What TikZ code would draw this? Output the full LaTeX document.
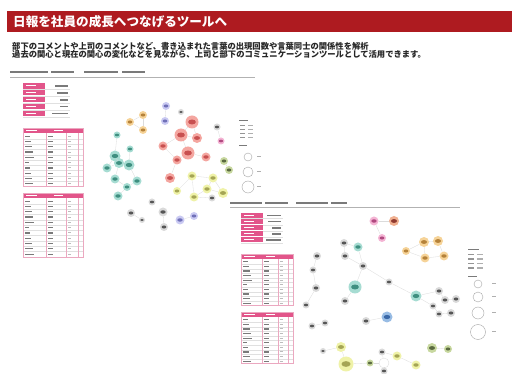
\documentclass[tikz,border=0pt]{standalone}
\usepackage{fontspec}
\newfontfamily\jp{Noto Sans CJK JP}
\definecolor{titlered}{HTML}{AE1B20}
\definecolor{pinkc}{HTML}{E2558A}
\definecolor{pinkl}{HTML}{EBA8C0}
\definecolor{txtc}{HTML}{7A7A7A}
\definecolor{redH}{HTML}{F4A6A0}\definecolor{redC}{HTML}{C85050}
\definecolor{tealH}{HTML}{A6DCD2}\definecolor{tealC}{HTML}{3F8F80}
\definecolor{orangeH}{HTML}{F6D398}\definecolor{orangeC}{HTML}{B5823A}
\definecolor{purpleH}{HTML}{CACAF2}\definecolor{purpleC}{HTML}{7070B8}
\definecolor{yellowH}{HTML}{EFF2A8}\definecolor{yellowC}{HTML}{A5A555}
\definecolor{grayH}{HTML}{DADADA}\definecolor{grayC}{HTML}{555555}
\definecolor{pinkH}{HTML}{F4B4D4}\definecolor{pinkC}{HTML}{B04A80}
\definecolor{blueH}{HTML}{98BCE4}\definecolor{blueC}{HTML}{3A68A8}
\definecolor{oliveH}{HTML}{C8D8A0}\definecolor{oliveC}{HTML}{5A6A40}
\definecolor{brickH}{HTML}{F0B090}\definecolor{brickC}{HTML}{903A30}
\newcommand\mytable[8]{%
  \fill[pinkc] (#1,#3) rectangle (#2,{#3+5.5});
  \fill[white] ({#1+3},{#3+2.3}) rectangle ({#1+14},{#3+3.3});
  \fill[white] ({#7-12},{#3+2.3}) rectangle ({#7-3},{#3+3.3});
  \foreach \i in {1,...,#4}{%
    \draw[tl] (#1,{#3+5.5+\i*#5}) -- (#2,{#3+5.5+\i*#5});
    \pgfmathsetmacro\wa{4+mod(\i*7,6)}
    \pgfmathsetmacro\wb{5+mod(\i*5,5)}
    \fill[txtc] ({#1+1.5},{#3+5.5+(\i-0.5)*#5-0.6}) rectangle ++(\wa,1.2);
    \fill[txtc] ({#6+1.5},{#3+5.5+(\i-0.5)*#5-0.6}) rectangle ++(\wb,1.2);
    \fill[txtc!50] ({#7+1.5},{#3+5.5+(\i-0.5)*#5-0.5}) rectangle ++(3,1);
  }
  \draw[pinkl,line width=0.4pt] (#6,{#3+5.5}) -- (#6,{#3+5.5+#4*#5});
  \draw[pinkl,line width=0.4pt] (#7,{#3+5.5}) -- (#7,{#3+5.5+#4*#5});
  \draw[pinkl,line width=0.4pt] (#8,{#3+5.5}) -- (#8,{#3+5.5+#4*#5});
  \draw[pinkl,line width=0.4pt] (#1,#3) rectangle (#2,{#3+5.5+#4*#5});
}
\begin{document}
\begin{tikzpicture}[x=1pt,y=-1pt,
  gn/.style 2 args={circle,inner sep=0pt,minimum size=#2pt,fill=#1H,draw=none,
    path picture={\fill[#1C] (path picture bounding box.center) ellipse ({0.3*#2 pt} and {0.19*#2 pt});}},
  ed/.style={draw=black!14,line width=0.3pt},
  tl/.style={draw=black!12,line width=0.3pt},
  hl/.style={draw=black!30,line width=0.7pt},
  lg/.style={draw=black!35,line width=0.4pt,fill=white}]
\useasboundingbox (0,0) rectangle (512,374);
\fill[white] (0,0) rectangle (512,374);
% title
\fill[titlered] (7,11) rectangle (512,32);
\node[anchor=west,inner sep=0pt,text=white,font=\jp\bfseries\fontsize{12.6}{14}\selectfont] (title) at (13,21.5) {日報を社員の成長へつなげるツールへ};
\node[anchor=west,inner sep=0pt,text=black!85,font=\jp\bfseries\fontsize{8.3}{9}\selectfont] (d1) at (12,46) {部下のコメントや上司のコメントなど、書き込まれた言葉の出現回数や言葉同士の関係性を解析};
\node[anchor=west,inner sep=0pt,text=black!85,font=\jp\bfseries\fontsize{8.3}{9}\selectfont] (d2) at (12,54.5) {過去の関心と現在の関心の変化などを見ながら、上司と部下のコミュニケーションツールとして活用できます。};
% panel 1 header
\foreach \a/\b in {10/48,51/74,84/118,122/145}{\fill[txtc] (\a,71.2) rectangle (\b,72.8);}
\draw[hl] (10,77) -- (255,77);
% panel 1 summary
\foreach \i/\w in {0/13,1/11,2/8,3/8,4/16}{
  \fill[pinkc] (23,{83+\i*6.9}) rectangle (45,{88.6+\i*6.9});
  \fill[white] (26,{85.3+\i*6.9}) rectangle (36,{86.3+\i*6.9});
  \fill[txtc] ({68-\w},{85.2+\i*6.9}) rectangle (68,{86.8+\i*6.9});
  \draw[tl] (23,{89.3+\i*6.9}) -- (70,{89.3+\i*6.9});
}
\mytable{23}{83}{128}{10}{5.3}{46}{66}{78}
\mytable{23}{83}{193}{11}{5.3}{46}{66}{78}
% panel 2 header
\foreach \a/\b in {230/262,265/288,296/328,331/347}{\fill[txtc] (\a,202.2) rectangle (\b,203.8);}
\draw[hl] (230,207.5) -- (460,207.5);
\foreach \i/\w in {0/14,1/13,2/9,3/9,4/15}{
  \fill[pinkc] (241,{213+\i*6.1}) rectangle (263,{218+\i*6.1});
  \fill[white] (244,{215.1+\i*6.1}) rectangle (254,{216.1+\i*6.1});
  \fill[txtc] ({281-\w},{214.8+\i*6.1}) rectangle (281,{216.4+\i*6.1});
  \draw[tl] (241,{218.6+\i*6.1}) -- (283,{218.6+\i*6.1});
}
\mytable{241}{293}{254}{10}{4.6}{262}{278}{288}
\mytable{241}{293}{312}{10}{4.6}{262}{278}{288}
% legend 1
\fill[txtc] (239,120) rectangle (248,121.4);
\foreach \i in {0,...,3}{\fill[txtc!80] (240,{125+\i*4}) rectangle (245,{126.1+\i*4});
  \fill[txtc!60] (248,{125+\i*4}) rectangle (253,{126.1+\i*4});}
\fill[txtc] (239,145) rectangle (247,146.3);
\node[lg,circle,minimum size=8pt,inner sep=0pt] (la) at (248,157) {};
\node[lg,circle,minimum size=10pt,inner sep=0pt] (lb) at (248,172) {};
\node[lg,circle,minimum size=12pt,inner sep=0pt] (lc) at (248,187) {};
\foreach \yy in {157,172,187}{\fill[txtc!60] (257,{\yy-0.5}) rectangle (261,{\yy+0.5});}
% legend 2
\fill[txtc] (468,249) rectangle (479,250.4);
\foreach \i in {0,...,3}{\fill[txtc!80] (468,{254+\i*4.5}) rectangle (474,{255.2+\i*4.5});
  \fill[txtc!60] (477,{254+\i*4.5}) rectangle (483,{255.2+\i*4.5});}
\fill[txtc] (468,276) rectangle (477,277.3);
\node[lg,circle,minimum size=8pt,inner sep=0pt] (ld) at (478,284) {};
\node[lg,circle,minimum size=10pt,inner sep=0pt] (le) at (478,297) {};
\node[lg,circle,minimum size=12pt,inner sep=0pt] (lf) at (478,313) {};
\node[lg,circle,minimum size=15pt,inner sep=0pt] (lh) at (478,332) {};
\foreach \yy in {284,297,313,332}{\fill[txtc!60] (492,{\yy-0.5}) rectangle (496,{\yy+0.5});}
% graph 1 nodes
\node[gn={purple}{8}] (p1) at (166,106) {};
\node[gn={purple}{8}] (p2) at (165,121) {};
\node[gn={gray}{6}] (k1) at (181,112) {};
\node[gn={orange}{8}] (o1) at (143,115) {};
\node[gn={orange}{8}] (o2) at (130,122) {};
\node[gn={orange}{8}] (o3) at (143,130) {};
\node[gn={red}{13}] (r1) at (192,122) {};
\node[gn={red}{13}] (r2) at (181,135) {};
\node[gn={red}{10}] (r3) at (197,138) {};
\node[gn={red}{9}] (r4) at (163,146) {};
\node[gn={red}{13}] (r5) at (188,153) {};
\node[gn={red}{9}] (r6) at (177,160) {};
\node[gn={red}{9}] (r7) at (206,157) {};
\node[gn={red}{10}] (r8) at (170,178) {};
\node[gn={gray}{7}] (k2) at (217,127) {};
\node[gn={pink}{7}] (m1) at (221,141) {};
\node[gn={olive}{8}] (g1) at (224,161) {};
\node[gn={olive}{8}] (g2) at (229,170) {};
\node[gn={teal}{7}] (t1) at (117,135) {};
\node[gn={teal}{7}] (t2) at (130,149) {};
\node[gn={teal}{11}] (t3) at (115,156) {};
\node[gn={teal}{10}] (t4) at (119,163) {};
\node[gn={teal}{11}] (t5) at (129,165) {};
\node[gn={teal}{9}] (t6) at (107,168) {};
\node[gn={teal}{9}] (t7) at (115,179) {};
\node[gn={teal}{9}] (t8) at (137,181) {};
\node[gn={teal}{8}] (t9) at (127,187) {};
\node[gn={teal}{9}] (t10) at (118,196) {};
\node[gn={yellow}{9}] (y1) at (192,176) {};
\node[gn={yellow}{9}] (y2) at (213,178) {};
\node[gn={yellow}{8}] (y3) at (177,191) {};
\node[gn={yellow}{9}] (y4) at (207,189) {};
\node[gn={yellow}{10}] (y5) at (223,193) {};
\node[gn={yellow}{9}] (y6) at (194,197) {};
\node[gn={gray}{7}] (y7) at (212,198) {};
\node[gn={gray}{7}] (k3) at (152,202) {};
\node[gn={gray}{8}] (k4) at (131,213) {};
\node[gn={gray}{6}] (k5) at (142,220) {};
\node[gn={gray}{9}] (k6) at (163,212) {};
\node[gn={gray}{8}] (k7) at (164,227) {};
\node[gn={purple}{9}] (b1) at (180,220) {};
\node[gn={purple}{8}] (b2) at (194,216) {};
% graph 1 edges
\foreach \a/\b in {o1/o2,o2/o3,o1/o3,p1/p2,r1/r2,r2/r3,r2/r4,r2/r5,r5/r6,r5/r7,r1/r3,r6/r8,r4/r6,
  t1/t3,t2/t5,t3/t4,t4/t5,t4/t6,t5/t8,t4/t7,t7/t9,t8/t9,t9/t10,t3/t6,
  y1/y2,y1/y3,y2/y4,y4/y5,y4/y6,y6/y7,y2/y5,y1/y6,k6/k7,b1/b2,k4/k5,k2/m1,g1/g2}
  {\draw[ed] (\a) -- (\b);}
% graph 2 nodes
\node[gn={pink}{9}] (q1) at (374,221) {};
\node[gn={brick}{10}] (q2) at (394,221) {};
\node[gn={pink}{8}] (q3) at (382,238) {};
\node[gn={orange}{10}] (o4) at (424,242) {};
\node[gn={orange}{10}] (o5) at (438,241) {};
\node[gn={orange}{8}] (o6) at (406,251) {};
\node[gn={orange}{9}] (o7) at (425,258) {};
\node[gn={orange}{9}] (o8) at (444,256) {};
\node[gn={gray}{8}] (k8) at (344,243) {};
\node[gn={teal}{9}] (t11) at (358,247) {};
\node[gn={gray}{8}] (k9) at (345,256) {};
\node[gn={gray}{8}] (k10) at (363,266) {};
\node[gn={gray}{8}] (k11) at (317,256) {};
\node[gn={gray}{7}] (k12) at (313,270) {};
\node[gn={gray}{8}] (k13) at (316,288) {};
\node[gn={gray}{7}] (k14) at (306,305) {};
\node[gn={teal}{13}] (t12) at (355,287) {};
\node[gn={gray}{7}] (k15) at (389,282) {};
\node[gn={gray}{8}] (k16) at (345,301) {};
\node[gn={teal}{11}] (t13) at (416,296) {};
\node[gn={gray}{8}] (k17) at (439,291) {};
\node[gn={gray}{8}] (k18) at (445,300) {};
\node[gn={gray}{8}] (k19) at (456,299) {};
\node[gn={gray}{7}] (k20) at (433,306) {};
\node[gn={gray}{7}] (k21) at (439,314) {};
\node[gn={gray}{8}] (k22) at (451,313) {};
\node[gn={gray}{8}] (k23) at (366,321) {};
\node[gn={blue}{11}] (bl1) at (387,317) {};
\node[gn={gray}{7}] (k24) at (312,326) {};
\node[gn={gray}{7}] (k25) at (325,323) {};
\node[gn={yellow}{10}] (y8) at (341,347) {};
\node[gn={gray}{6}] (k26) at (323,351) {};
\node[gn={gray}{7}] (k27) at (382,352) {};
\node[gn={yellow}{9}] (y9) at (397,356) {};
\node[gn={yellow}{15}] (y10) at (346,364) {};
\node[gn={olive}{7}] (y11) at (370,363) {};
\node[circle,draw=black!15,line width=0.3pt,minimum size=10pt,inner sep=0pt] (w1) at (384,363) {};
\node[gn={yellow}{9}] (y12) at (416,365) {};
\node[gn={gray}{7}] (k28) at (384,371) {};
\node[gn={olive}{10}] (ol1) at (432,348) {};
\node[gn={olive}{8}] (ol2) at (448,349) {};
% graph 2 edges
\foreach \a/\b in {q1/q2,q1/q3,o6/o4,o4/o5,o4/o7,o5/o8,o7/o8,o6/o7,k8/t11,k8/k9,k9/k10,t11/k10,
  k10/k15,k15/t13,t13/k17,t13/k20,k17/k18,k18/k19,k20/k21,k21/k22,k11/k12,k12/k13,k13/k14,
  t12/k16,k23/bl1,k24/k25,y8/k26,y8/y10,y10/y11,y11/w1,k27/y9,y9/y12,w1/k28,w1/k27,ol1/ol2,t12/k10}
  {\draw[ed] (\a) -- (\b);}
\end{tikzpicture}
\end{document}
